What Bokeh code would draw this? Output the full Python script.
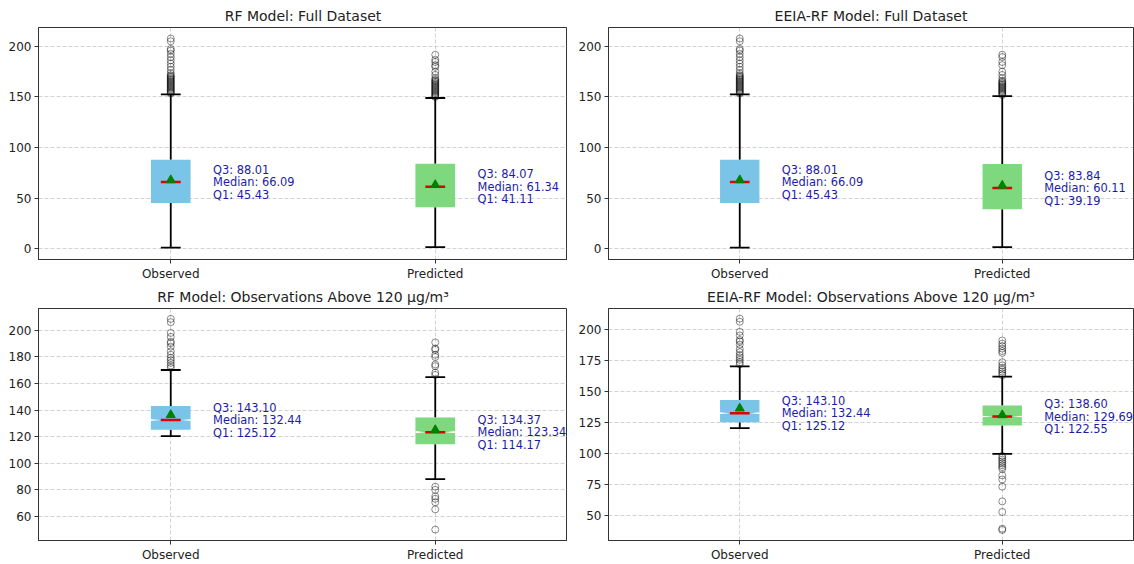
from bokeh.plotting import figure
from bokeh.layouts import gridplot
from bokeh.models import FixedTicker, ColumnDataSource
from bokeh.embed import file_html
from bokeh.resources import INLINE

categories = ["Observed", "Predicted"]
titles = ["RF Model: Full Dataset", "EEIA-RF Model: Full Dataset",
          "RF Model: Observations Above 120 μg/m³", "EEIA-RF Model: Observations Above 120 μg/m³"]

# per panel: [observed, predicted]
q1 = [[45.43, 41.11], [45.43, 39.19], [125.12, 114.17], [125.12, 122.55]]
med = [[66.09, 61.34], [66.09, 60.11], [132.44, 123.34], [132.44, 129.69]]
q3 = [[88.01, 84.07], [88.01, 83.84], [143.10, 134.37], [143.10, 138.60]]
whis_lo = [[1.3, 1.9], [1.3, 1.9], [120.3, 88.0], [120.3, 99.6]]
whis_hi = [[152.6, 149.0], [152.6, 150.9], [170.1, 164.7], [170.1, 161.9]]
means = [[68.0, 63.2], [68.0, 62.6], [136.3, 125.0], [136.3, 130.9]]
notch_half = [[0.0, 0.0], [0.0, 0.0], [0.7, 0.8], [0.7, 0.6]]

obs_full_out = [153.5, 154.5, 155.5, 156.5, 157.5, 158.5, 159.5, 160.5, 161.5, 162.5, 163.5,
                164.5, 165.5, 166.5, 167.5, 168.5, 169.5, 170.5, 171.5, 173.4, 176.6, 179.8,
                183.0, 186.2, 189.4, 192.6, 195.8, 197.4, 205.0, 207.7]
rf_full_pred_out = [150.0, 151.0, 152.0, 153.0, 154.0, 155.0, 156.0, 157.0, 158.0, 159.0, 160.0,
                    161.0, 162.0, 163.0, 164.0, 165.0, 166.0, 167.0, 168.6, 171.8, 175.0, 179.8,
                    181.4, 184.6, 186.8, 191.7]
eeia_full_pred_out = [152.0, 153.0, 154.0, 155.0, 156.0, 157.0, 158.0, 159.0, 160.0, 161.0, 162.0,
                      163.0, 164.0, 165.0, 166.0, 168.5, 171.8, 175.0, 181.4, 184.6, 189.4, 191.7]
obs_high_out = [171.8, 173.5, 175.5, 177.4, 179.2, 181.6, 184.1, 187.7, 190.2, 191.4, 195.1,
                198.0, 206.1, 208.6]
rf_high_pred_out = [166.4, 168.1, 173.0, 174.3, 179.9, 181.6, 185.3, 186.3, 190.9,
                    82.3, 79.9, 75.0, 73.2, 70.6, 65.2, 50.0]
eeia_high_pred_out = [163.0, 164.5, 166.0, 167.5, 169.0, 171.0, 173.5, 181.0, 182.5, 184.5,
                      186.5, 188.5, 191.0,
                      98.0, 96.5, 95.0, 93.5, 92.0, 90.5, 89.0, 87.5, 82.3, 79.0, 73.2,
                      61.3, 52.8, 39.3, 38.3]
outliers = [[obs_full_out, rf_full_pred_out], [obs_full_out, eeia_full_pred_out],
            [obs_high_out, rf_high_pred_out], [obs_high_out, eeia_high_pred_out]]

y_ranges = [(-10.4, 218.6), (-10.4, 218.6), (41.8, 216.4), (29.8, 216.8)]
y_ticks = [[0, 50, 100, 150, 200], [0, 50, 100, 150, 200],
           [60, 80, 100, 120, 140, 160, 180, 200], [50, 75, 100, 125, 150, 175, 200]]

box_colors = ["#7AC4E8", "#7DD87E"]
FONT = "DejaVu Sans"
BOX_W = 0.15

layout_specs = [
    dict(width=567, height=283, min_border_left=38, min_border_right=0, min_border_top=27, min_border_bottom=20),
    dict(width=567, height=283, min_border_left=41, min_border_right=1, min_border_top=27, min_border_bottom=20),
    dict(width=567, height=281, min_border_left=38, min_border_right=0, min_border_top=22, min_border_bottom=22),
    dict(width=567, height=281, min_border_left=41, min_border_right=1, min_border_top=22, min_border_bottom=22),
]

figs = []
for i in range(4):
    spec = layout_specs[i]
    p = figure(x_range=(0.5, 2.5), y_range=y_ranges[i], output_backend="svg",
               toolbar_location=None, title=titles[i], **spec)
    p.title.align = "center"
    p.title.text_font = FONT
    p.title.text_font_size = "14px"
    p.title.text_font_style = "normal"
    p.title.text_color = "#222222"
    p.title.standoff = 7
    p.outline_line_color = "#333333"
    p.outline_line_alpha = 1
    p.outline_line_width = 1
    p.background_fill_color = "white"
    p.border_fill_color = "white"

    pos = [k + 1 for k in range(len(categories))]
    p.xaxis.ticker = FixedTicker(ticks=pos)
    p.xaxis.major_label_overrides = {k + 1: c for k, c in enumerate(categories)}
    p.yaxis.ticker = FixedTicker(ticks=y_ticks[i])
    for ax in (p.xaxis[0], p.yaxis[0]):
        ax.major_label_text_font = FONT
        ax.major_label_text_font_size = "12px"
        ax.major_label_text_color = "#222222"
        ax.axis_line_color = "#333333"
        ax.major_tick_line_color = "#333333"
        ax.major_tick_out = 4
        ax.major_tick_in = 0
        ax.minor_tick_line_color = None
        ax.major_label_standoff = 3
    for g in (p.xgrid[0], p.ygrid[0]):
        g.grid_line_color = "#b0b0b0"
        g.grid_line_alpha = 0.7
        g.grid_line_dash = "4 2"
        g.grid_line_width = 0.8
    p.xgrid.ticker = FixedTicker(ticks=pos)

    for k, x in enumerate(pos):
        lo, hi = whis_lo[i][k], whis_hi[i][k]
        a, m, b = q1[i][k], med[i][k], q3[i][k]
        # whiskers
        p.segment(x0=[x, x], y0=[lo, b], x1=[x, x], y1=[a, hi], line_color="black", line_width=1.8)
        # caps
        p.segment(x0=[x - BOX_W / 4] * 2, y0=[lo, hi], x1=[x + BOX_W / 4] * 2, y1=[lo, hi],
                  line_color="black", line_width=1.8)
        # box
        p.vbar(x=[x], width=BOX_W, bottom=[a], top=[b], fill_color=box_colors[k], line_color=None)
        left, right = x - BOX_W / 2, x + BOX_W / 2
        cl, cr = x - BOX_W / 4, x + BOX_W / 4
        nh = notch_half[i][k]
        if nh > 0:
            p.patches(xs=[[left, cl, left], [right, cr, right]],
                      ys=[[m - nh, m, m + nh], [m - nh, m, m + nh]],
                      fill_color="white", line_color=None)
        # median
        p.segment(x0=[cl], y0=[m], x1=[cr], y1=[m], line_color="#e00000", line_width=2.5)
        # mean
        p.scatter([x], [means[i][k]], marker="triangle", size=9, fill_color="green",
                  line_color="green")
        # outliers
        ol = outliers[i][k]
        p.scatter([x] * len(ol), ol, marker="circle", size=7, fill_color=None,
                  line_color="black", line_alpha=0.45, line_width=1)
        # annotation
        tx = x + 0.16
        labels = [f"Q3: {b:.2f}", f"Median: {m:.2f}", f"Q1: {a:.2f}"]
        offs = [-12.5, 0, 12.5]
        src = ColumnDataSource(dict(x=[tx] * 3, y=[m] * 3, t=labels, yo=offs))
        p.text(x="x", y="y", text="t", y_offset="yo", source=src, text_font_size="11.4px",
               text_color="#1c1ca6", text_baseline="middle", text_align="left",
               text_font={"value": FONT})
    figs.append(p)

grid = gridplot([[figs[0], figs[1]], [figs[2], figs[3]]], toolbar_location=None)
open("out.html", "w").write(file_html(grid, INLINE))
